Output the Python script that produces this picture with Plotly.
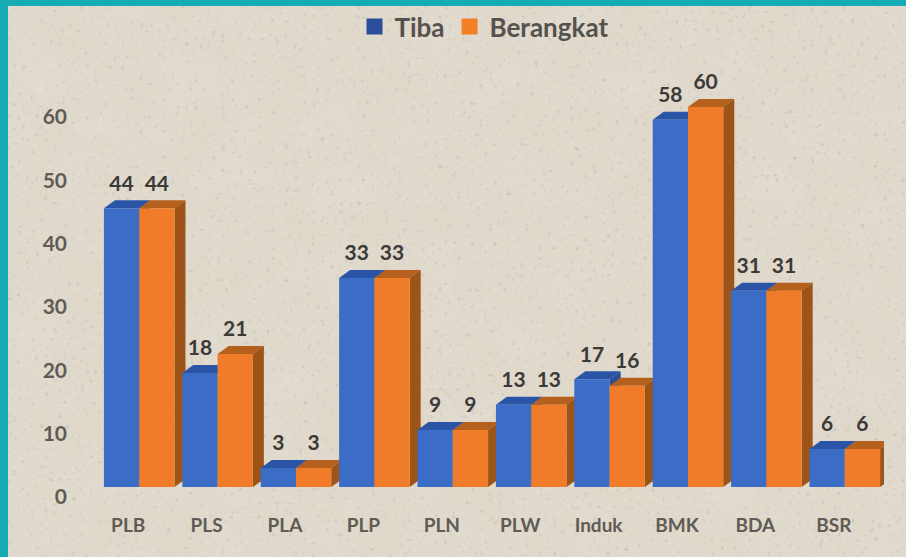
import base64
import plotly.graph_objects as go

categories = ["PLB", "PLS", "PLA", "PLP", "PLN", "PLW", "Induk", "BMK", "BDA", "BSR"]
tiba = [44, 18, 3, 33, 9, 13, 17, 58, 31, 6]
berangkat = [44, 21, 3, 33, 9, 13, 16, 60, 31, 6]
y_ticks = [0, 10, 20, 30, 40, 50, 60]

W, H = 906, 557
ML, MR, MT, MB = 100, 22, 69, 70
PW, PH = W - ML - MR, H - MT - MB
YMAX = 66
DX = 11 * 10 / PW          # depth of the bars in axis units
DY = 8 * YMAX / PH
BAR = 0.45
LABEL_UP = 23 * YMAX / PH
TEXT = "#3c3a38"
AXIS_TEXT = "#5f5b55"
FONT = "Lato"

BLUE, BLUE_TOP, BLUE_SIDE = "#3b6cc6", "#2a55a6", "#284f93"
ORANGE, ORANGE_TOP, ORANGE_SIDE = "#f07c2a", "#b5601c", "#9c5418"

fig = go.Figure()


def faces(x0, v, top, side):
    x1 = x0 + BAR
    fig.add_trace(go.Scatter(
        x=[x0, x1, x1 + DX, x0 + DX, x0], y=[v, v, v + DY, v + DY, v],
        mode="lines", fill="toself", fillcolor=top, line=dict(width=0),
        showlegend=False, hoverinfo="skip", xaxis="x", yaxis="y"))
    fig.add_trace(go.Scatter(
        x=[x1, x1 + DX, x1 + DX, x1, x1], y=[0, DY, v + DY, v, 0],
        mode="lines", fill="toself", fillcolor=side, line=dict(width=0),
        showlegend=False, hoverinfo="skip", xaxis="x", yaxis="y"))


for i in range(len(categories)):
    faces(i - BAR, tiba[i], BLUE_TOP, BLUE_SIDE)
    faces(i, berangkat[i], ORANGE_TOP, ORANGE_SIDE)

xs = list(range(len(categories)))
fig.add_trace(go.Bar(x=xs, y=tiba, marker=dict(color=BLUE, line=dict(width=0)),
                     showlegend=False, xaxis="x2", yaxis="y2"))
fig.add_trace(go.Bar(x=xs, y=berangkat, marker=dict(color=ORANGE, line=dict(width=0)),
                     showlegend=False, xaxis="x2", yaxis="y2"))

# Data labels, floating above each bar
fig.add_trace(go.Scatter(
    x=[i - BAR / 2 for i in xs] + [i + BAR / 2 for i in xs],
    y=[v + LABEL_UP for v in tiba] + [v + LABEL_UP for v in berangkat],
    text=[str(v) for v in tiba] + [str(v) for v in berangkat],
    mode="text", textposition="middle center",
    textfont=dict(family=FONT, size=21, color=TEXT, weight=700),
    showlegend=False, hoverinfo="skip", xaxis="x2", yaxis="y2", cliponaxis=False))

# Legend entries
fig.add_trace(go.Scatter(x=[None], y=[None], mode="markers", name="Tiba",
                         marker=dict(symbol="square", size=16, color="#2a4d9c")))
fig.add_trace(go.Scatter(x=[None], y=[None], mode="markers", name="Berangkat",
                         marker=dict(symbol="square", size=16, color="#f57f25")))

# Paper-like texture for the background
svg = f'''<svg xmlns="http://www.w3.org/2000/svg" width="{W}" height="{H}">
<filter id="a" x="0" y="0" width="100%" height="100%"><feTurbulence type="fractalNoise" baseFrequency="0.22" numOctaves="2" seed="7"/>
<feColorMatrix type="matrix" values="0 0 0 0 0.50  0 0 0 0 0.47  0 0 0 0 0.42  4 0 0 0 -2.5"/></filter>
<filter id="b" x="0" y="0" width="100%" height="100%"><feTurbulence type="fractalNoise" baseFrequency="0.02" numOctaves="3" seed="3"/>
<feColorMatrix type="matrix" values="0 0 0 0 0.98  0 0 0 0 0.96  0 0 0 0 0.92  0.9 0 0 0 -0.3"/></filter>
<rect width="100%" height="100%" fill="#dfd8cb"/>
<rect width="100%" height="100%" filter="url(#b)" opacity="0.2"/>
<rect width="100%" height="100%" filter="url(#a)" opacity="0.6"/></svg>'''
src = "data:image/svg+xml;base64," + base64.b64encode(svg.encode()).decode()

LEFT, TOP = 8, 6
axis_range_x = [-0.5, 9.5]
axis_range_y = [0, YMAX]

fig.update_layout(
    width=W, height=H,
    margin=dict(l=ML, r=MR, t=MT, b=MB),
    autosize=False,
    paper_bgcolor="#17abb4",
    plot_bgcolor="rgba(0,0,0,0)",
    barmode="group", bargap=0.1, bargroupgap=0,
    font=dict(family=FONT, color=AXIS_TEXT),
    images=[dict(source=src, xref="paper", yref="paper", layer="below",
                 x=(LEFT - ML) / PW, y=1 + (MT - TOP) / PH,
                 sizex=(W + 6 - LEFT) / PW, sizey=(H + 6 - TOP) / PH,
                 sizing="stretch", xanchor="left", yanchor="top")],
    legend=dict(orientation="h", xref="container", yref="container",
                x=484 / W, xanchor="center", y=1 - 3 / H, yanchor="top",
                font=dict(family=FONT, size=26, color="#55524e", weight=700),
                bgcolor="rgba(0,0,0,0)", itemsizing="trace", itemwidth=30,
                traceorder="normal"),
    xaxis=dict(range=axis_range_x, tickmode="array", tickvals=xs, ticktext=categories,
               showgrid=False, zeroline=False, showline=False, ticks="",
               ticklabelshift=-11, ticklabelstandoff=25,
               tickfont=dict(family=FONT, size=19, color=AXIS_TEXT, weight=700)),
    yaxis=dict(range=axis_range_y, tickmode="array", tickvals=y_ticks,
               showgrid=False, zeroline=False, showline=False, ticks="",
               ticklabelshift=10, ticklabelstandoff=32,
               tickfont=dict(family=FONT, size=21, color=AXIS_TEXT, weight=700)),
    xaxis2=dict(range=axis_range_x, overlaying="x", anchor="y2", visible=False),
    yaxis2=dict(range=axis_range_y, overlaying="y", anchor="x2", visible=False),
)

fig.write_html("out.html", config=dict(displayModeBar=False),
               post_script="document.body.style.margin='0';document.documentElement.style.overflow='hidden';")
